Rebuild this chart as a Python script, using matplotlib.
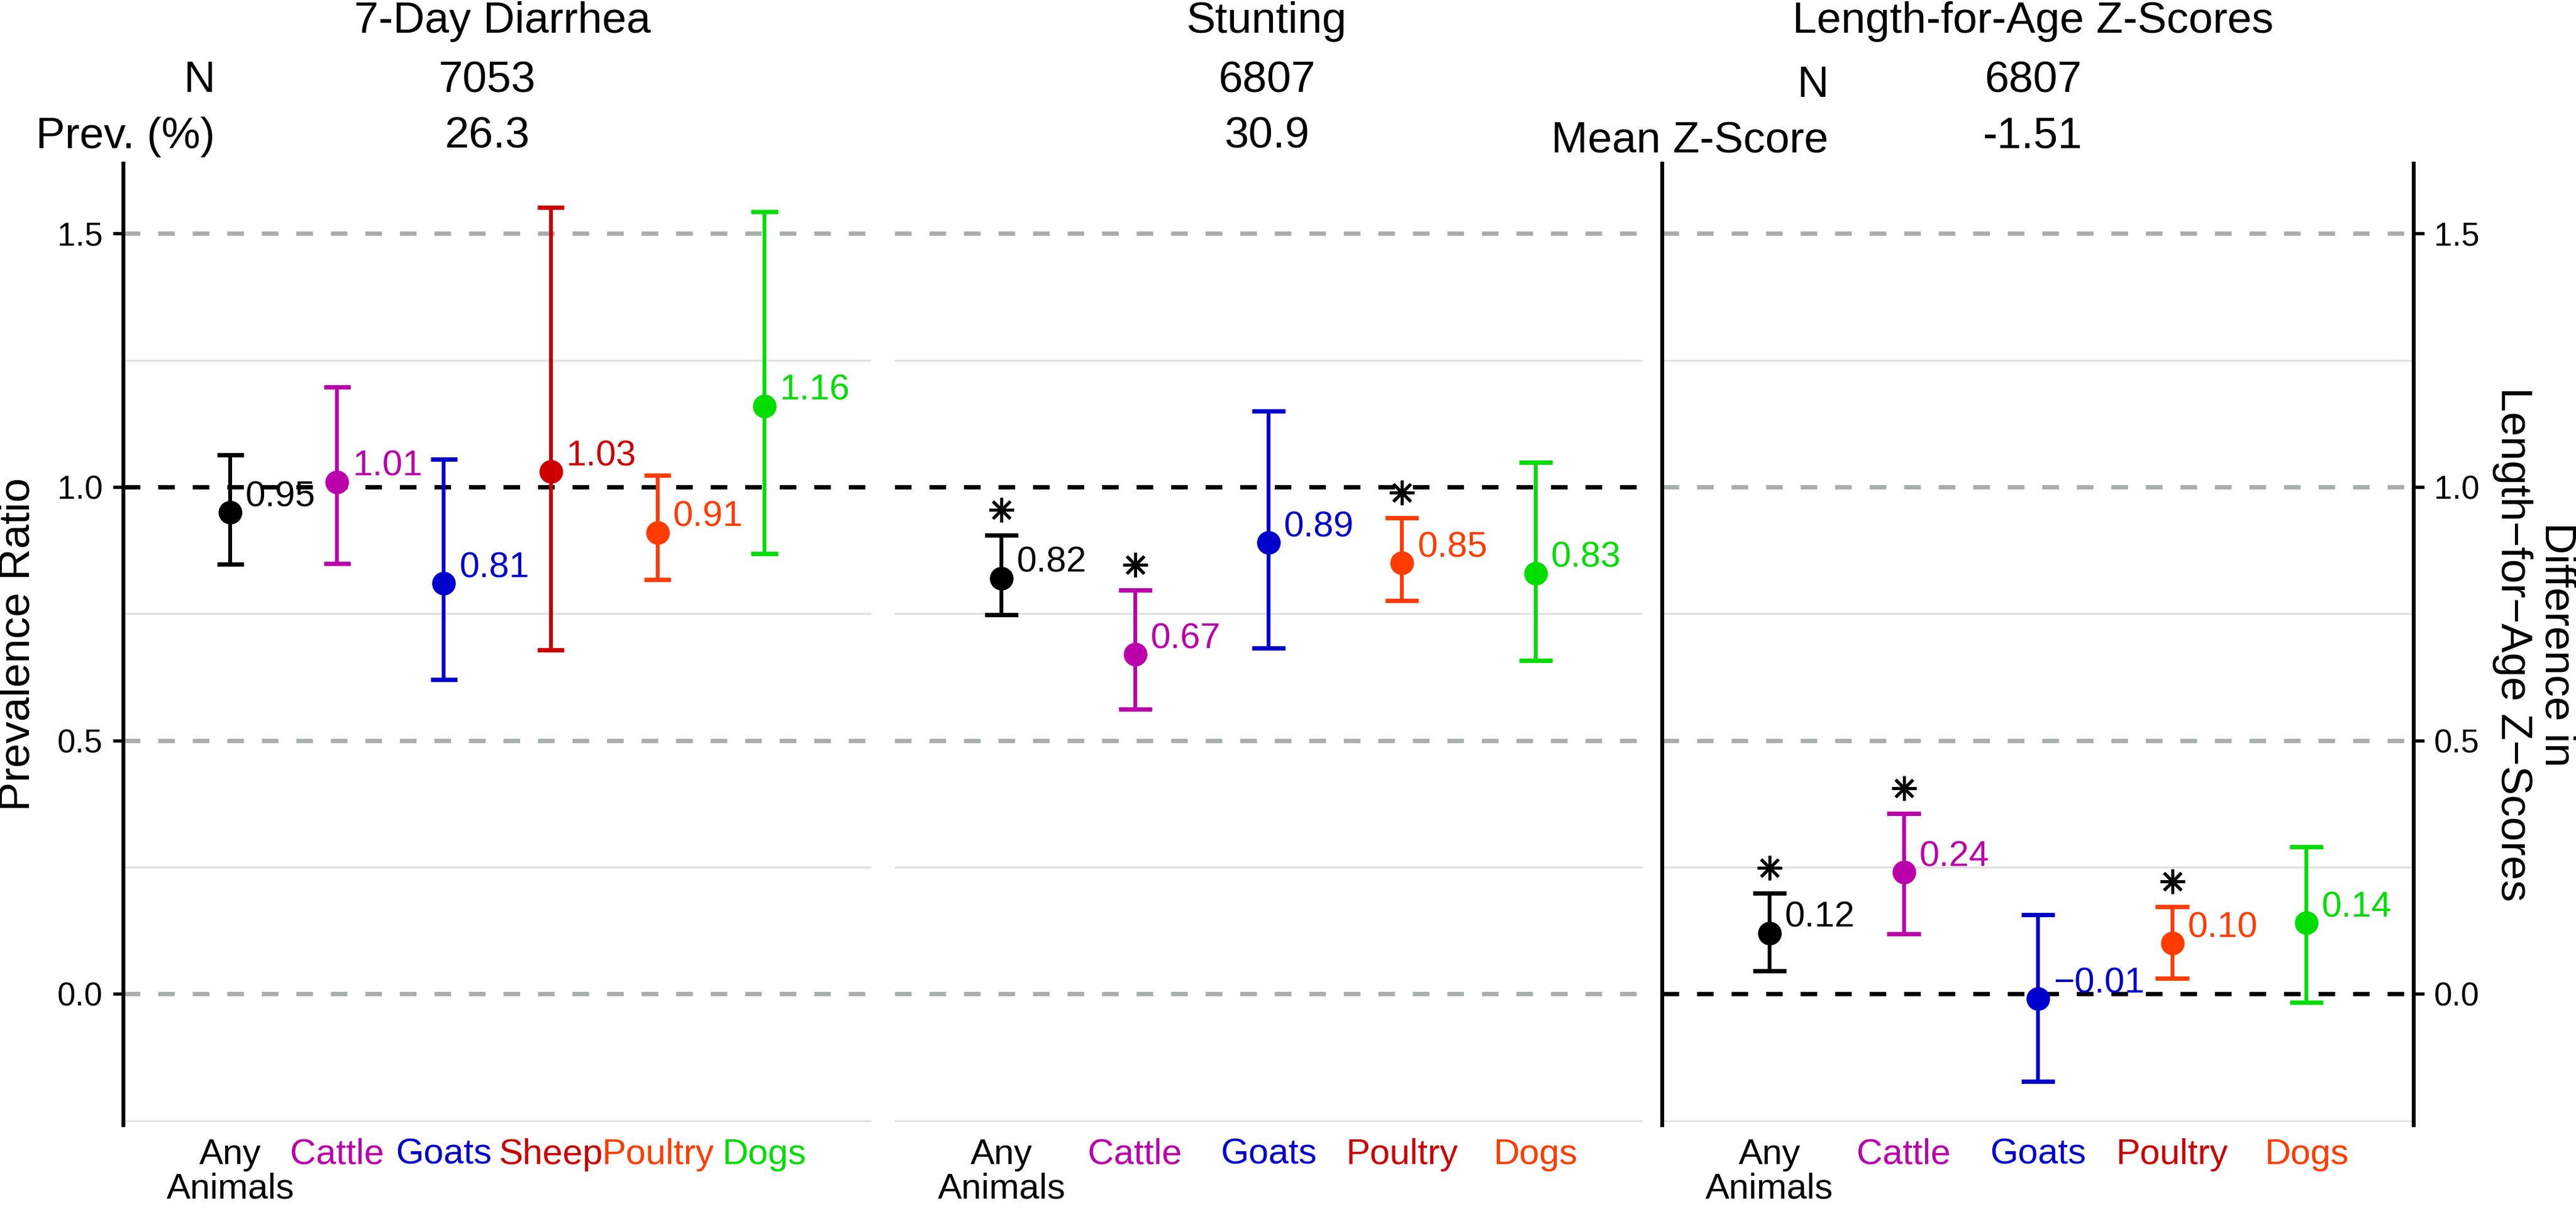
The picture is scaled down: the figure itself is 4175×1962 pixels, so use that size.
import numpy as np
import matplotlib.pyplot as plt

plt.rcParams['font.family'] = ['Liberation Sans', 'DejaVu Sans']

# colours per animal group
C_ANY = '#000000'
C_CATTLE = '#BA00AA'
C_GOATS = '#0000CC'
C_SHEEP = '#CC0000'
C_POULTRY = '#FF3C00'
C_DOGS = '#00DD00'

# 7-day diarrhea, prevalence ratios
diar_labels = ['Any\nAnimals', 'Cattle', 'Goats', 'Sheep', 'Poultry', 'Dogs']
diar_est = [0.95, 1.01, 0.81, 1.03, 0.91, 1.16]
diar_lo = [0.848, 0.849, 0.620, 0.679, 0.817, 0.869]
diar_hi = [1.063, 1.197, 1.055, 1.551, 1.023, 1.543]
diar_sig = [False, False, False, False, False, False]
diar_colors = [C_ANY, C_CATTLE, C_GOATS, C_SHEEP, C_POULTRY, C_DOGS]
diar_tick_colors = [C_ANY, C_CATTLE, C_GOATS, C_SHEEP, C_POULTRY, C_DOGS]

# stunting, prevalence ratios
stunt_labels = ['Any\nAnimals', 'Cattle', 'Goats', 'Poultry', 'Dogs']
stunt_est = [0.82, 0.67, 0.89, 0.85, 0.83]
stunt_lo = [0.748, 0.562, 0.682, 0.776, 0.658]
stunt_hi = [0.905, 0.797, 1.150, 0.939, 1.049]
stunt_sig = [True, True, False, True, False]

# length-for-age z-scores, mean differences
laz_labels = ['Any\nAnimals', 'Cattle', 'Goats', 'Poultry', 'Dogs']
laz_est = [0.12, 0.24, -0.01, 0.10, 0.14]
laz_lo = [0.046, 0.118, -0.172, 0.031, -0.017]
laz_hi = [0.199, 0.356, 0.156, 0.172, 0.290]
laz_sig = [True, True, False, True, False]

five_colors = [C_ANY, C_CATTLE, C_GOATS, C_POULTRY, C_DOGS]
five_tick_colors = [C_ANY, C_CATTLE, C_GOATS, C_SHEEP, C_POULTRY]

# header table
titles = ['7-Day Diarrhea', 'Stunting', 'Length-for-Age Z-Scores']
n_values = ['7053', '6807', '6807']
stat_values = ['26.3', '30.9', '-1.51']

W, H = 4175, 1962
DPI = 300
YLIM = (-0.259, 1.638)
GRAY_DASH = '#A8AFAB'
MINOR_GRID = '#DEE2E2'
DASH = (0, (3.8, 4.1))


def add_panel(fig, x0, x1, y0=265, y1=1823):
    return fig.add_axes([x0 / W, 1 - y1 / H, (x1 - x0) / W, (y1 - y0) / H])


def draw_panel(ax, labels, est, lo, hi, sig, colors, tick_colors, ref, xlim):
    x = np.arange(1, len(labels) + 1)
    ax.set_xlim(*xlim)
    ax.set_ylim(*YLIM)

    # grid lines
    for g in [-0.25, 0.25, 0.75, 1.25]:
        ax.axhline(g, color=MINOR_GRID, lw=0.8, zorder=0)
    for g in [0.0, 0.5, 1.0, 1.5]:
        if g != ref:
            ax.axhline(g, color=GRAY_DASH, lw=1.7, ls=DASH, zorder=1)
    ax.axhline(ref, color='black', lw=1.7, ls=DASH, zorder=2)

    # error bars with caps
    half = 0.125
    for xi, e, l, h, c, s in zip(x, est, lo, hi, colors, sig):
        ax.vlines(xi, l, h, color=c, lw=1.5, zorder=3)
        ax.hlines([l, h], xi - half, xi + half, color=c, lw=1.7, zorder=3)
        ax.plot(xi, e, 'o', color=c, ms=9.2, mew=0, zorder=4)
        txt = f'{e:.2f}'.replace('-', '\u2212')
        ax.annotate(txt, (xi, e), xytext=(6, 6), textcoords='offset points',
                    ha='left', va='center', color=c, fontsize=14, zorder=5)
        if s:
            ax.plot(xi, h + 0.05, marker=(8, 2, 0), color='black', ms=9.5,
                    mew=1.2, zorder=5)

    ax.set_xticks(x)
    ax.set_xticklabels(labels, fontsize=14, linespacing=1.05)
    for t, c in zip(ax.get_xticklabels(), tick_colors):
        t.set_color(c)
    ax.tick_params(axis='x', length=0, pad=5)
    ax.set_yticks([0.0, 0.5, 1.0, 1.5])
    ax.set_facecolor('none')
    for sp in ax.spines.values():
        sp.set_visible(False)


fig = plt.figure(figsize=(W / DPI, H / DPI), dpi=DPI)

ax1 = add_panel(fig, 200, 1412)
ax2 = add_panel(fig, 1450, 2662)
ax3 = add_panel(fig, 2694, 3912)

draw_panel(ax1, diar_labels, diar_est, diar_lo, diar_hi, diar_sig,
           diar_colors, diar_tick_colors, 1.0, (0, 7))
draw_panel(ax2, stunt_labels, stunt_est, stunt_lo, stunt_hi, stunt_sig,
           five_colors, five_tick_colors, 1.0, (0.2, 5.8))
draw_panel(ax3, laz_labels, laz_est, laz_lo, laz_hi, laz_sig,
           five_colors, five_tick_colors, 0.0, (0.2, 5.8))

# left axis on panel 1
ax1.spines['left'].set_visible(True)
ax1.spines['left'].set_linewidth(1.5)
ax1.tick_params(axis='y', length=4, width=1.3, pad=4, labelsize=12.7)
ax1.set_yticklabels(['0.0', '0.5', '1.0', '1.5'])

# panel 2: no y axis
ax2.tick_params(axis='y', left=False, labelleft=False)

# panel 3: frame lines, ticks on the right
ax3.spines['left'].set_visible(True)
ax3.spines['right'].set_visible(True)
ax3.spines['left'].set_linewidth(1.5)
ax3.spines['right'].set_linewidth(1.5)
ax3.yaxis.tick_right()
ax3.tick_params(axis='y', length=4, width=1.3, pad=4, labelsize=12.7)
ax3.set_yticklabels(['0.0', '0.5', '1.0', '1.5'])

# axis titles
fig.text(30 / W, 1 - 1044 / H, 'Prevalence Ratio', rotation=90,
         ha='center', va='center', fontsize=17)
fig.text(4108 / W, 1 - 1044 / H,
         'Difference in\nLength\u2212for\u2212Age Z\u2212Scores',
         rotation=-90, ha='center', va='center', fontsize=17,
         linespacing=1.1, multialignment='center')

# header table above the panels
title_x = [814, 2053, 3295]
value_x = [789, 2053, 3295]
for tx, vx, t, n, s in zip(title_x, value_x, titles, n_values, stat_values):
    fig.text(tx / W, 1 - 53 / H, t, ha='center', va='baseline', fontsize=17)
    fig.text(vx / W, 1 - 149 / H, n, ha='center', va='baseline', fontsize=17)
    fig.text(vx / W, 1 - 240 / H, s, ha='center', va='baseline', fontsize=17)

fig.text(348 / W, 1 - 149 / H, 'N', ha='right', va='baseline', fontsize=17)
fig.text(348 / W, 1 - 240 / H, 'Prev. (%)', ha='right', va='baseline', fontsize=17)
fig.text(2963 / W, 1 - 157 / H, 'N', ha='right', va='baseline', fontsize=17)
fig.text(2963 / W, 1 - 248 / H, 'Mean Z-Score', ha='right', va='baseline', fontsize=17)

fig.savefig('out.png', dpi=DPI, facecolor='white')
